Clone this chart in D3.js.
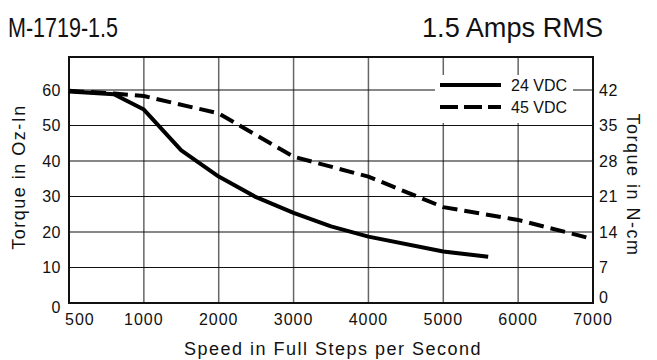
<!DOCTYPE html>
<html>
<head>
<meta charset="utf-8">
<script src="https://cdn.jsdelivr.net/npm/d3@7"></script>
<style>
  html, body { margin: 0; padding: 0; background: #fff; }
  svg { display: block; }
</style>
</head>
<body>
<script>
const fontFamily = "\"Liberation Sans\", Arial, Helvetica, sans-serif";

// speed ticks (full steps per second) - axis is spaced evenly per tick
const speedTicks = [500, 1000, 2000, 3000, 4000, 5000, 6000, 7000];
const ozTicks = [0, 10, 20, 30, 40, 50, 60];
const ncmTicks = [0, 7, 14, 21, 28, 35, 42];

const seriesNames = ["24 VDC", "45 VDC"];
const speed24 = [500, 800, 1000, 1500, 2000, 2500, 3000, 3500, 4000, 5000, 5600];
const torque24 = [59.6, 58.8, 54.5, 43, 35.6, 29.8, 25.4, 21.6, 18.7, 14.5, 13];
const speed45 = [500, 800, 1000, 2000, 3000, 4000, 5000, 6000, 7000];
const torque45 = [59.8, 59, 58.3, 53.4, 41.2, 35.6, 27, 23.4, 18];

const width = 657;
const height = 360;
const plot = { left: 69, right: 593, top: 57, bottom: 303 };

const svg = d3.select("body").append("svg")
    .attr("width", width)
    .attr("height", height)
    .style("font-family", fontFamily);

let step = (plot.right - plot.left) / (speedTicks.length - 1);
let x = d3.scaleLinear()
    .domain(speedTicks)
    .range(speedTicks.map((d, i) => plot.left + i * step));
let y = d3.scaleLinear().domain([0, 60]).range([plot.bottom, 90]);

// titles (squeezed to mimic the condensed face)
svg.append("text")
    .attr("x", 8).attr("y", 37)
    .attr("font-size", 28)
    .attr("textLength", 110)
    .attr("lengthAdjust", "spacingAndGlyphs")
    .attr("fill", "#111")
    .text("M-1719-1.5");

svg.append("text")
    .attr("x", 422).attr("y", 37)
    .attr("font-size", 27)
    .attr("textLength", 181)
    .attr("lengthAdjust", "spacingAndGlyphs")
    .attr("fill", "#111")
    .text("1.5 Amps RMS");

// grid
let grid = svg.append("g").classed("grid", true);
grid.selectAll("line.v")
    .data(speedTicks.slice(1, -1))
    .enter().append("line")
    .classed("v", true)
    .attr("x1", d => x(d)).attr("x2", d => x(d))
    .attr("y1", plot.top).attr("y2", plot.bottom)
    .attr("stroke", "#666").attr("stroke-width", 1.5);

grid.selectAll("line.h")
    .data(ozTicks.slice(1))
    .enter().append("line")
    .classed("h", true)
    .attr("x1", plot.left).attr("x2", plot.right)
    .attr("y1", d => y(d)).attr("y2", d => y(d))
    .attr("stroke", "#111").attr("stroke-width", 1.2);

// legend box knocks out grid
svg.append("rect")
    .attr("x", 435).attr("y", 75)
    .attr("width", 138).attr("height", 48)
    .attr("fill", "#fff");

// frame
svg.append("rect")
    .attr("x", plot.left).attr("y", plot.top)
    .attr("width", plot.right - plot.left)
    .attr("height", plot.bottom - plot.top)
    .attr("fill", "none")
    .attr("stroke", "#111")
    .attr("stroke-width", 2);

// curves
let line = d3.line()
    .x(d => x(d[0]))
    .y(d => y(d[1]));

svg.append("path")
    .datum(speed24.map((s, i) => [s, torque24[i]]))
    .attr("d", line)
    .attr("fill", "none")
    .attr("stroke", "#000")
    .attr("stroke-width", 4)
    .attr("stroke-linejoin", "round");

svg.append("path")
    .datum(speed45.map((s, i) => [s, torque45[i]]))
    .attr("d", line)
    .attr("fill", "none")
    .attr("stroke", "#000")
    .attr("stroke-width", 4)
    .attr("stroke-dasharray", "15,7");

// legend
let legend = svg.append("g").classed("legend", true);
seriesNames.forEach((name, i) => {
    let ly = 85 + i * 22;
    legend.append("line")
        .attr("x1", 440).attr("x2", 501)
        .attr("y1", ly).attr("y2", ly)
        .attr("stroke", "#000")
        .attr("stroke-width", 4)
        .attr("stroke-dasharray", i === 0 ? null : "18,6");
    legend.append("text")
        .attr("x", 511).attr("y", ly + 6)
        .attr("font-size", 16)
        .attr("fill", "#111")
        .text(name);
});

// left axis labels
svg.append("g")
    .selectAll("text")
    .data(ozTicks)
    .enter().append("text")
    .attr("x", 61)
    .attr("y", d => y(d) + (d === 0 ? 4 : 0))
    .attr("dy", "0.36em")
    .attr("text-anchor", "end")
    .attr("font-size", 16)
    .attr("letter-spacing", 0.5)
    .attr("fill", "#111")
    .text(d => d);

// right axis labels (N-cm, same grid)
let yr = d3.scaleLinear().domain([0, 42]).range([plot.bottom, 90]);
svg.append("g")
    .selectAll("text")
    .data(ncmTicks)
    .enter().append("text")
    .attr("x", 599)
    .attr("y", d => yr(d) - (d === 0 ? 6 : 0))
    .attr("dy", "0.36em")
    .attr("font-size", 16)
    .attr("letter-spacing", 0.5)
    .attr("fill", "#111")
    .text(d => d);

// bottom axis labels
svg.append("g")
    .selectAll("text")
    .data(speedTicks)
    .enter().append("text")
    .attr("x", d => d === 500 ? x(d) - 4 : x(d))
    .attr("y", 325)
    .attr("text-anchor", d => d === 500 ? "start" : "middle")
    .attr("font-size", 16)
    .attr("letter-spacing", 1)
    .attr("fill", "#111")
    .text(d => d);

// axis titles
svg.append("text")
    .attr("x", 333).attr("y", 355)
    .attr("text-anchor", "middle")
    .attr("font-size", 18)
    .attr("letter-spacing", 1.5)
    .attr("fill", "#111")
    .text("Speed in Full Steps per Second");

svg.append("text")
    .attr("transform", "translate(25,177) rotate(-90)")
    .attr("text-anchor", "middle")
    .attr("font-size", 18)
    .attr("letter-spacing", 1.5)
    .attr("fill", "#111")
    .text("Torque in Oz-In");

svg.append("text")
    .attr("transform", "translate(627,185) rotate(90)")
    .attr("text-anchor", "middle")
    .attr("font-size", 18)
    .attr("letter-spacing", 1.5)
    .attr("fill", "#111")
    .text("Torque in N-cm");
</script>
</body>
</html>
